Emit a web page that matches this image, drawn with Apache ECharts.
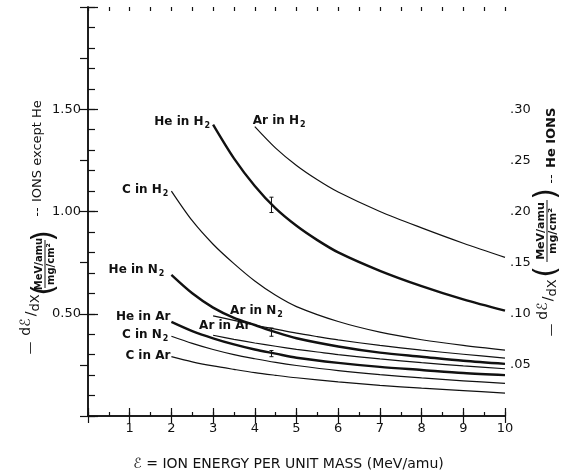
<!DOCTYPE html>
<html>
<head>
<meta charset="utf-8">
<script src="https://cdn.jsdelivr.net/npm/echarts@6/dist/echarts.min.js"></script>
<style>
html, body { margin: 0; padding: 0; background: #fff; }
#chart { width: 568px; height: 476px; }
</style>
</head>
<body>
<div id="chart"></div>
<script>
// energy grids (MeV/amu) the curves are read at
const eFrom2 = [2, 2.5, 3, 3.5, 4, 4.5, 5, 6, 7, 8, 9, 10]
const eFrom3 = [3, 3.5, 4, 4.5, 5, 5.5, 6, 7, 8, 9, 10]
const eFrom4 = [4, 4.5, 5, 5.5, 6, 7, 8, 9, 10]

// He ions -> right axis
const heInH2 = [0.285, 0.252, 0.225, 0.203, 0.186, 0.172, 0.160, 0.142, 0.127, 0.114, 0.103]
const heInN2 = [0.138, 0.120, 0.106, 0.096, 0.089, 0.082, 0.076, 0.068, 0.062, 0.058, 0.054, 0.051]
const heInAr = [0.092, 0.083, 0.076, 0.070, 0.065, 0.061, 0.057, 0.052, 0.048, 0.045, 0.042, 0.040]

// other ions -> left axis
const arInH2 = [1.415, 1.31, 1.225, 1.155, 1.095, 1.00, 0.92, 0.845, 0.776]
const cInH2 = [1.10, 0.955, 0.84, 0.745, 0.66, 0.59, 0.535, 0.462, 0.41, 0.373, 0.345, 0.322]
const arInN2 = [0.49, 0.468, 0.445, 0.425, 0.405, 0.388, 0.372, 0.345, 0.322, 0.302, 0.283]
const arInAr = [0.395, 0.375, 0.357, 0.341, 0.326, 0.313, 0.300, 0.279, 0.261, 0.245, 0.231]
const cInN2 = [0.39, 0.355, 0.325, 0.30, 0.28, 0.262, 0.247, 0.222, 0.202, 0.186, 0.172, 0.160]
const cInAr = [0.29, 0.265, 0.245, 0.228, 0.212, 0.199, 0.187, 0.167, 0.150, 0.136, 0.124, 0.112]

// error marks on the He curves (right axis)
const errE = [4.4, 4.4, 4.4]
const errLow = [0.199, 0.078, 0.058]
const errHigh = [0.214, 0.086, 0.064]

const FONT = '"DejaVu Sans", sans-serif'
const INK = '#111'

function curve(xs, ys, axis, width, name, sub, align, offset) {
  const data = xs.map((x, i) => [x, ys[i]])
  data[0] = {
    value: data[0],
    label: {
      show: true,
      position: 'inside',
      align: align,
      verticalAlign: 'middle',
      offset: offset,
      formatter: '{m|' + name + '}' + (sub ? '{s|' + sub + '}' : '')
    }
  }
  return {
    type: 'line',
    yAxisIndex: axis,
    data: data,
    smooth: 0.3,
    symbol: 'circle',
    symbolSize: 1,
    showSymbol: true,
    showAllSymbol: true,
    silent: true,
    itemStyle: { color: 'rgba(0,0,0,0)' },
    lineStyle: { color: INK, width: width },
    label: {
      show: false,
      rich: {
        m: { fontFamily: FONT, fontSize: 12, fontWeight: 'bold', color: INK },
        s: { fontFamily: FONT, fontSize: 8, fontWeight: 'bold', color: INK, padding: [8, 0, 0, 1] }
      }
    }
  }
}

// rotated text piece, reading bottom to top
function vt(text, x, y, size, weight, align) {
  return {
    type: 'text', x: x, y: y, rotation: Math.PI / 2, silent: true,
    style: {
      text: text, fill: INK,
      font: (weight || 'normal') + ' ' + size + 'px ' + FONT,
      align: align || 'center', verticalAlign: 'middle'
    }
  }
}
function vline(x, y1, y2) {
  return { type: 'line', silent: true, shape: { x1: x, y1: y1, x2: x, y2: y2 }, style: { stroke: INK, lineWidth: 1 } }
}

const axisLine = { lineStyle: { color: INK, width: 1.5 } }
const tickStyle = { color: INK, width: 1.2 }

// an extra axis that only carries short ticks
function minorAxis(pos, max, step, len) {
  return {
    type: 'value', position: pos, min: 0, max: max, interval: step,
    axisLine: { show: false },
    axisTick: { inside: true, length: len, lineStyle: tickStyle },
    axisLabel: { show: false },
    splitLine: { show: false }
  }
}

const chart = echarts.init(document.getElementById('chart'))
chart.setOption({
  animation: false,
  grid: { left: 88, right: 63, top: 7, bottom: 57 },
  xAxis: [
    {
      type: 'value', min: 0, max: 10, interval: 1,
      axisLine: axisLine,
      axisTick: { inside: true, length: 8, lineStyle: tickStyle },
      splitLine: { show: false },
      axisLabel: { color: INK, fontFamily: FONT, fontSize: 13, margin: 6, formatter: v => (v === 0 ? '' : String(v)) },
      name: 'ℰ = ION ENERGY PER UNIT MASS (MeV/amu)',
      nameLocation: 'middle',
      nameGap: 41,
      nameTextStyle: { color: INK, fontFamily: FONT, fontSize: 14, padding: [0, 16, 0, 0] }
    },
    {
      type: 'value', position: 'top', min: 0, max: 10, interval: 1,
      axisLine: axisLine,
      axisTick: { inside: true, length: 7, lineStyle: tickStyle },
      splitLine: { show: false },
      axisLabel: { show: false }
    },
    minorAxis('bottom', 10, 0.5, 4),
    minorAxis('top', 10, 0.5, 4)
  ],
  yAxis: [
    {
      type: 'value', position: 'left', min: 0, max: 2, interval: 0.5,
      axisLine: axisLine,
      axisTick: { inside: true, length: 10, lineStyle: tickStyle },
      splitLine: { show: false },
      axisLabel: { color: INK, fontFamily: FONT, fontSize: 13, margin: 7, formatter: v => (v === 0 || v === 2 ? '' : v.toFixed(2)) }
    },
    {
      type: 'value', position: 'right', min: 0, max: 0.4, interval: 0.05,
      axisLine: axisLine,
      axisTick: { inside: true, length: 8, lineStyle: tickStyle },
      splitLine: { show: false },
      axisLabel: {
        color: INK, fontFamily: FONT, fontSize: 13, margin: 5,
        formatter: v => (v < 0.01 || v > 0.31 ? '' : '.' + String(Math.round(v * 100)).padStart(2, '0'))
      }
    },
    minorAxis('left', 2, 0.1, 7)
  ],
  series: [
    curve(eFrom3, heInH2, 1, 2.4, 'He in H', '2', 'right', [-3, -3]),
    curve(eFrom4, arInH2, 0, 1.2, 'Ar in H', '2', 'left', [-2, -6]),
    curve(eFrom2, cInH2, 0, 1.2, 'C in H', '2', 'right', [-3, -1]),
    curve(eFrom2, heInN2, 1, 2.4, 'He in N', '2', 'right', [-7, -5]),
    curve(eFrom3, arInN2, 0, 1.2, 'Ar in N', '2', 'left', [17, -5]),
    curve(eFrom3, arInAr, 0, 1.2, 'Ar in Ar', '', 'left', [-14, -9]),
    curve(eFrom2, heInAr, 1, 2.4, 'He in Ar', '', 'right', [-1, -5]),
    curve(eFrom2, cInN2, 0, 1.2, 'C in N', '2', 'right', [-3, -1]),
    curve(eFrom2, cInAr, 0, 1.2, 'C in Ar', '', 'right', [-1, -1]),
    {
      type: 'custom',
      yAxisIndex: 1,
      silent: true,
      data: errE.map((x, i) => [x, errLow[i], errHigh[i]]),
      renderItem: (params, api) => {
        const lo = api.coord([api.value(0), api.value(1)])
        const hi = api.coord([api.value(0), api.value(2)])
        const st = { stroke: INK, lineWidth: 1 }
        return {
          type: 'group',
          children: [
            { type: 'line', shape: { x1: lo[0], y1: lo[1], x2: hi[0], y2: hi[1] }, style: st },
            { type: 'line', shape: { x1: lo[0] - 2, y1: lo[1], x2: lo[0] + 2, y2: lo[1] }, style: st },
            { type: 'line', shape: { x1: hi[0] - 2, y1: hi[1], x2: hi[0] + 2, y2: hi[1] }, style: st }
          ]
        }
      }
    }
  ],
  graphic: [
    // left axis title
    vt('—', 31, 348, 13),
    vt('dℰ', 26, 327, 14),
    vt('/', 31, 314, 14),
    vt('dX', 36, 303, 13),
    vt('(', 45, 290, 30),
    vt('MeV/amu', 39, 264, 10, 'bold'),
    vline(45, 288, 240),
    vt('mg/cm²', 51, 264, 10, 'bold'),
    vt(')', 45, 236, 30),
    vt('--', 38, 212, 13),
    vt('IONS except He', 38, 202, 13, 'normal', 'left'),
    // right axis title
    vt('—', 552, 330, 13),
    vt('dℰ', 543, 311, 14),
    vt('/', 548, 299, 14),
    vt('dX', 553, 288, 13),
    vt('(', 547, 272, 30),
    vt('MeV/amu', 541, 231, 11, 'bold'),
    vline(547, 262, 200),
    vt('mg/cm²', 553, 231, 11, 'bold'),
    vt(')', 547, 194, 30),
    vt('--', 552, 179, 13),
    vt('He IONS', 552, 168, 13, 'bold', 'left')
  ]
})
</script>
</body>
</html>
